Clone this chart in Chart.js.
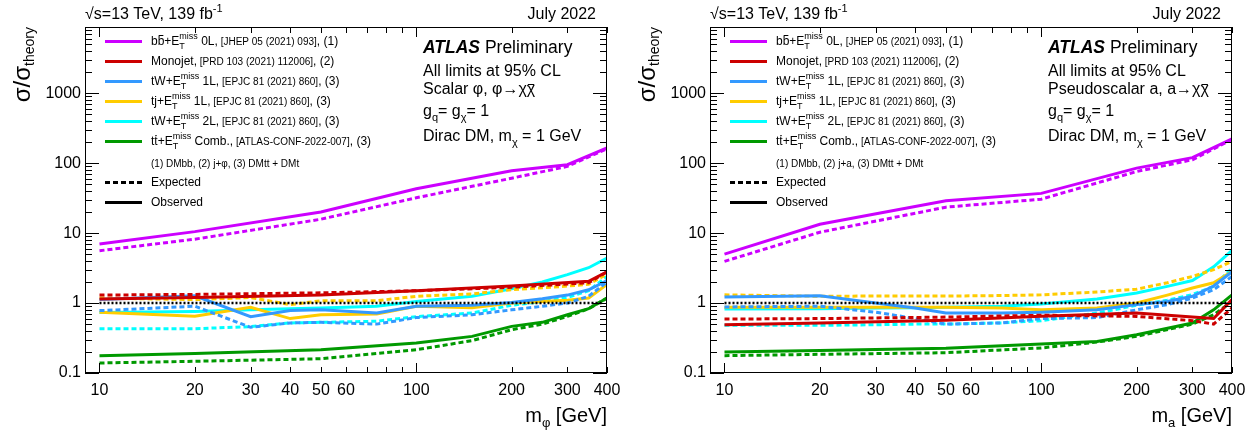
<!DOCTYPE html>
<html>
<head>
<meta charset="utf-8">
<script src="https://cdn.jsdelivr.net/npm/chart.js@4.4.1/dist/chart.umd.min.js"></script>
<style>
  body { margin: 0; background: #fff; }
  #wrap { position: relative; width: 1260px; height: 435px; }
  canvas { position: absolute; top: 0; }
</style>
</head>
<body>
<div id="wrap">
  <canvas id="scalar" width="630" height="435" style="left:0"></canvas>
  <canvas id="pseudo" width="630" height="435" style="left:630px"></canvas>
</div>
<script>
const FONT = '"Liberation Sans", Arial, Helvetica, sans-serif';

// axis labels
const xTickLabels = [10, 20, 30, 40, 50, 60, 100, 200, 300, 400];
const yTickLabels = [0.1, 1, 10, 100, 1000];

// unity reference line
const unityMass = [10, 390];
const unityVal = [1, 1];

// --- scalar mediator (left panel) ---
const sBbMass = [10, 20, 50, 100, 200, 300, 400];
const sBbObs = [7.0, 10.5, 20, 43, 78, 95, 165];
const sBbExp = [5.6, 8.2, 15.8, 32, 61, 90, 160];
const sJetMass = [10, 20, 50, 100, 200, 350, 400];
const sJetObs = [1.14, 1.2, 1.3, 1.5, 1.75, 2.05, 2.8];
const sJetExp = [1.3, 1.33, 1.4, 1.5, 1.68, 1.95, 2.8];
const sTopMass = [10, 20, 30, 40, 50, 75, 100, 150, 200, 250, 300, 350, 400];
const sTW1Obs = [1.12, 1.27, 0.64, 0.78, 0.8, 0.72, 0.9, 0.93, 1.02, 1.15, 1.3, 1.55, 2.1];
const sTW1Exp = [0.78, 0.9, 0.45, 0.52, 0.53, 0.5, 0.62, 0.68, 0.8, 0.9, 1.0, 1.25, 2.0];
const sTjObs = [0.74, 0.65, 0.87, 0.6, 0.68, 0.7, 0.9, 0.86, 1.0, 1.05, 1.1, 1.18, 1.85];
const sTjExp = [1.18, 1.12, 1.2, 0.95, 1.08, 1.08, 1.25, 1.35, 1.55, 1.65, 1.75, 1.85, 2.6];
const sTW2Obs = [0.73, 0.76, 0.8, 0.83, 0.85, 0.9, 1.05, 1.25, 1.6, 2.0, 2.55, 3.2, 4.4];
const sTW2Exp = [0.43, 0.43, 0.46, 0.52, 0.53, 0.55, 0.64, 0.72, 0.93, 1.05, 1.2, 1.5, 2.4];
const sTtMass = [10, 20, 50, 100, 150, 200, 250, 300, 350, 400];
const sTtObs = [0.177, 0.19, 0.215, 0.268, 0.334, 0.464, 0.53, 0.68, 0.83, 1.18];
const sTtExp = [0.139, 0.147, 0.16, 0.215, 0.29, 0.416, 0.5, 0.645, 0.83, 1.18];

// --- pseudoscalar mediator (right panel) ---
const pBbMass = [10, 20, 50, 100, 200, 300, 400];
const pBbObs = [5.0, 13.4, 29, 37, 85, 120, 222];
const pBbExp = [3.95, 10.3, 23.5, 30.6, 76, 112, 218];
const pJetMass = [10, 20, 50, 100, 200, 300, 350, 400];
const pJetObs = [0.49, 0.52, 0.57, 0.65, 0.72, 0.63, 0.6, 1.12];
const pJetExp = [0.59, 0.6, 0.63, 0.67, 0.645, 0.56, 0.5, 0.85];
const pTopMass = [10, 20, 30, 40, 50, 75, 100, 150, 200, 250, 300, 350, 400];
const pTW1Obs = [1.22, 1.27, 1.0, 0.85, 0.72, 0.72, 0.74, 0.8, 0.95, 1.05, 1.25, 1.75, 2.8];
const pTW1Exp = [0.88, 0.9, 0.74, 0.6, 0.5, 0.52, 0.6, 0.62, 0.8, 0.95, 1.18, 1.55, 2.4];
const pTjObs = [0.87, 0.87, 0.87, 0.87, 0.87, 0.85, 0.8, 0.85, 1.0, 1.3, 1.64, 1.95, 2.83];
const pTjExp = [1.31, 1.25, 1.26, 1.26, 1.26, 1.28, 1.31, 1.44, 1.58, 1.95, 2.4, 3.0, 3.95];
const pTW2Obs = [0.82, 0.83, 0.85, 0.86, 0.87, 0.9, 0.97, 1.14, 1.39, 1.73, 2.1, 3.3, 5.65];
const pTW2Exp = [0.48, 0.48, 0.49, 0.5, 0.5, 0.52, 0.56, 0.72, 0.93, 1.1, 1.32, 1.73, 3.16];
const pTtMass = [10, 20, 50, 100, 150, 200, 300, 350, 400];
const pTtObs = [0.2, 0.21, 0.225, 0.26, 0.283, 0.353, 0.518, 0.8, 1.31];
const pTtExp = [0.177, 0.185, 0.195, 0.228, 0.277, 0.334, 0.5, 0.68, 1.05];

const colors = {
  bb: "#cc00ff",     // magenta
  jet: "#cc0000",    // red
  tw1: "#3399ff",    // light blue
  tj: "#ffcc00",     // yellow
  tw2: "#00ffff",    // cyan
  tt: "#009900"      // green
};

const DASH = [5, 3];   // expected limits
const DOTS = [2, 2];   // sigma = theory line

function pts(xs, ys) {
  return xs.map((x, i) => ({ x: x, y: ys[i] }));
}

function line(label, xs, ys, color, dash, width) {
  return {
    label: label,
    data: pts(xs, ys),
    borderColor: color,
    borderWidth: width || 3,
    borderDash: dash || [],
    pointRadius: 0,
    fill: false,
    tension: 0
  };
}

function fontOf(size, style) {
  return (style || "") + " " + size + "px " + FONT;
}

function isStack(p) {
  return p.sub !== undefined || p.sup !== undefined;
}

function partWidth(ctx, p) {
  if (isStack(p)) {
    ctx.font = fontOf(p.size);
    return Math.max(ctx.measureText(p.sub || "").width, ctx.measureText(p.sup || "").width);
  }
  ctx.font = fontOf(p.size, p.style);
  return ctx.measureText(p.t).width;
}

// draws a run of text pieces (sub/superscripts, overlines)
function drawRich(ctx, x, y, parts, align) {
  const total = parts.reduce((s, p) => s + partWidth(ctx, p), 0);
  let cx = align === "right" ? x - total : x;
  ctx.textAlign = "left";
  ctx.textBaseline = "alphabetic";
  ctx.fillStyle = "#000";
  parts.forEach(p => {
    const w = partWidth(ctx, p);
    if (isStack(p)) {
      ctx.font = fontOf(p.size);
      if (p.sup) ctx.fillText(p.sup, cx, y - 6);
      if (p.sub) ctx.fillText(p.sub, cx, y + 4);
    } else {
      ctx.font = fontOf(p.size, p.style);
      ctx.fillText(p.t, cx, y + (p.dy || 0));
      if (p.over) {
        const oy = Math.round(y - p.over * p.size) + 0.5;
        ctx.strokeStyle = "#000";
        ctx.lineWidth = 1;
        ctx.beginPath();
        ctx.moveTo(cx + 1, oy);
        ctx.lineTo(cx + w - 1, oy);
        ctx.stroke();
      }
    }
    cx += w;
  });
}

function et() {
  return [{ t: "+E", size: 12 }, { sub: "T", sup: "miss", size: 9 }];
}

function legendRows(med) {
  return [
    { dy: 14, color: colors.bb, parts: [{ t: "b", size: 12 }, { t: "b", size: 12, over: 0.85 }, ...et(),
      { t: " 0L,", size: 12 }, { t: " [JHEP 05 (2021) 093]", size: 10 }, { t: ", (1)", size: 12 }] },
    { dy: 34, color: colors.jet, parts: [{ t: "Monojet,", size: 12 }, { t: " [PRD 103 (2021) 112006]", size: 10 },
      { t: ", (2)", size: 12 }] },
    { dy: 54, color: colors.tw1, parts: [{ t: "tW", size: 12 }, ...et(), { t: " 1L,", size: 12 },
      { t: " [EPJC 81 (2021) 860]", size: 10 }, { t: ", (3)", size: 12 }] },
    { dy: 74, color: colors.tj, parts: [{ t: "tj", size: 12 }, ...et(), { t: " 1L,", size: 12 },
      { t: " [EPJC 81 (2021) 860]", size: 10 }, { t: ", (3)", size: 12 }] },
    { dy: 94, color: colors.tw2, parts: [{ t: "tW", size: 12 }, ...et(), { t: " 2L,", size: 12 },
      { t: " [EPJC 81 (2021) 860]", size: 10 }, { t: ", (3)", size: 12 }] },
    { dy: 114, color: colors.tt, parts: [{ t: "t", size: 12 }, { t: "t", size: 12, over: 0.85 }, ...et(),
      { t: " Comb.,", size: 12 }, { t: " [ATLAS-CONF-2022-007]", size: 10 }, { t: ", (3)", size: 12 }] },
    { dy: 136, parts: [{ t: "(1) DMbb, (2) j+" + med + ", (3) DMtt + DMt", size: 10 }] },
    { dy: 155, color: "#000", dash: DASH, parts: [{ t: "Expected", size: 12 }] },
    { dy: 175, color: "#000", parts: [{ t: "Observed", size: 12 }] }
  ];
}

const atlasPlugin = {
  id: "atlas",
  afterDraw(chart, args, o) {
    const ctx = chart.ctx, a = chart.chartArea;
    const xs = chart.scales.x, ys = chart.scales.y;
    ctx.save();

    // frame
    ctx.strokeStyle = "#000";
    ctx.lineWidth = 1;
    ctx.strokeRect(a.left + 0.5, a.top + 0.5, a.right - a.left - 1, a.bottom - a.top - 1);

    // tick marks inside the frame, all four sides
    ctx.beginPath();
    [1, 10, 100].forEach(d => {
      for (let k = 1; k <= 9; k++) {
        const v = k * d;
        if (v < xs.min || v > xs.max) continue;
        const px = Math.round(xs.getPixelForValue(v)) + 0.5;
        const len = k === 1 ? 10 : 6;
        ctx.moveTo(px, a.bottom); ctx.lineTo(px, a.bottom - len);
        ctx.moveTo(px, a.top); ctx.lineTo(px, a.top + len);
      }
    });
    [0.1, 1, 10, 100, 1000].forEach(d => {
      for (let k = 1; k <= 9; k++) {
        const v = k * d;
        if (v < ys.min || v > ys.max) continue;
        const py = Math.round(ys.getPixelForValue(v)) + 0.5;
        const len = k === 1 ? 14 : 7;
        ctx.moveTo(a.left, py); ctx.lineTo(a.left + len, py);
        ctx.moveTo(a.right, py); ctx.lineTo(a.right - len, py);
      }
    });
    ctx.stroke();

    // legend
    o.legend.forEach(r => {
      const y = a.top + r.dy;
      if (r.color) {
        ctx.strokeStyle = r.color;
        ctx.lineWidth = 3;
        ctx.setLineDash(r.dash || []);
        ctx.beginPath();
        ctx.moveTo(a.left + 20, y + 0.5);
        ctx.lineTo(a.left + 57, y + 0.5);
        ctx.stroke();
        ctx.setLineDash([]);
      }
      drawRich(ctx, a.left + 66, y + 4, r.parts, "left");
    });

    // ATLAS label block
    const bx = a.right - 184;
    drawRich(ctx, bx, a.top + 26, [{ t: "ATLAS", size: 17.5, style: "italic bold" }, { t: " Preliminary", size: 17.5 }]);
    drawRich(ctx, bx, a.top + 49, [{ t: "All limits at 95% CL", size: 16 }]);
    drawRich(ctx, bx, a.top + 67, [{ t: o.model, size: 16 }, { t: "\u03c7", size: 16, over: 0.62 }]);
    drawRich(ctx, bx, a.top + 89, [{ t: "g", size: 16 }, { t: "q", size: 11, dy: 5 }, { t: "= g", size: 16 },
      { t: "\u03c7", size: 11, dy: 5 }, { t: "= 1", size: 16 }]);
    drawRich(ctx, bx, a.top + 114, [{ t: "Dirac DM, m", size: 16 }, { t: "\u03c7", size: 11, dy: 5 },
      { t: " = 1 GeV", size: 16 }]);

    // top labels
    drawRich(ctx, a.left, 19, [{ t: "\u221as=13 TeV, 139 fb", size: 16 }, { t: "-1", size: 11, dy: -7 }]);
    drawRich(ctx, a.right - 11, 19, [{ t: "July 2022", size: 16 }], "right");

    // axis titles
    drawRich(ctx, a.right, 422, [{ t: "m", size: 20 }, { t: o.med, size: 13, dy: 5 }, { t: " [GeV]", size: 20 }], "right");
    ctx.save();
    ctx.translate(a.left - 55, a.top);
    ctx.rotate(-Math.PI / 2);
    drawRich(ctx, 0, 0, [{ t: "\u03c3/\u03c3", size: 24 }, { t: "theory", size: 14, dy: 4 }], "right");
    ctx.restore();

    ctx.restore();
  }
};

function makeChart(id, cfg) {
  new Chart(document.getElementById(id), {
    type: "line",
    data: { datasets: cfg.datasets },
    options: {
      responsive: false,
      animation: false,
      devicePixelRatio: 1,
      layout: { padding: { top: 27, right: cfg.padRight, left: 0, bottom: 0 } },
      scales: {
        x: {
          type: "logarithmic",
          min: 9,
          max: 400,
          grid: { display: false, drawTicks: false },
          border: { display: false },
          afterBuildTicks: s => { s.ticks = xTickLabels.map(v => ({ value: v })); },
          afterFit: s => { s.height = 62; },
          ticks: {
            autoSkip: false, maxRotation: 0, minRotation: 0, padding: 8, color: "#000",
            font: { family: FONT, size: 16 },
            callback: v => String(v)
          }
        },
        y: {
          type: "logarithmic",
          min: 0.1,
          max: 8850,
          grid: { display: false, drawTicks: false },
          border: { display: false },
          afterBuildTicks: s => { s.ticks = yTickLabels.map(v => ({ value: v })); },
          afterFit: s => { s.width = cfg.axisWidth; },
          ticks: {
            autoSkip: false, padding: 4, color: "#000",
            font: { family: FONT, size: 16 },
            callback: v => String(v)
          }
        }
      },
      plugins: {
        legend: { display: false },
        tooltip: { enabled: false },
        atlas: { legend: legendRows(cfg.med), model: cfg.model, med: cfg.med }
      }
    },
    plugins: [atlasPlugin]
  });
}

makeChart("scalar", {
  axisWidth: 85,
  padRight: 23,
  med: "\u03c6",
  model: "Scalar \u03c6, \u03c6\u2192\u03c7",
  datasets: [
    line("unity", unityMass, unityVal, "#000", DOTS, 2.5),
    line("bb obs", sBbMass, sBbObs, colors.bb),
    line("bb exp", sBbMass, sBbExp, colors.bb, DASH),
    line("monojet obs", sJetMass, sJetObs, colors.jet),
    line("monojet exp", sJetMass, sJetExp, colors.jet, DASH),
    line("tW 1L obs", sTopMass, sTW1Obs, colors.tw1),
    line("tW 1L exp", sTopMass, sTW1Exp, colors.tw1, DASH),
    line("tj 1L obs", sTopMass, sTjObs, colors.tj),
    line("tj 1L exp", sTopMass, sTjExp, colors.tj, DASH),
    line("tW 2L obs", sTopMass, sTW2Obs, colors.tw2),
    line("tW 2L exp", sTopMass, sTW2Exp, colors.tw2, DASH),
    line("tt comb obs", sTtMass, sTtObs, colors.tt),
    line("tt comb exp", sTtMass, sTtExp, colors.tt, DASH)
  ]
});

makeChart("pseudo", {
  axisWidth: 80,
  padRight: 28,
  med: "a",
  model: "Pseudoscalar a, a\u2192\u03c7",
  datasets: [
    line("unity", unityMass, unityVal, "#000", DOTS, 2.5),
    line("bb obs", pBbMass, pBbObs, colors.bb),
    line("bb exp", pBbMass, pBbExp, colors.bb, DASH),
    line("monojet obs", pJetMass, pJetObs, colors.jet),
    line("monojet exp", pJetMass, pJetExp, colors.jet, DASH),
    line("tW 1L obs", pTopMass, pTW1Obs, colors.tw1),
    line("tW 1L exp", pTopMass, pTW1Exp, colors.tw1, DASH),
    line("tj 1L obs", pTopMass, pTjObs, colors.tj),
    line("tj 1L exp", pTopMass, pTjExp, colors.tj, DASH),
    line("tW 2L obs", pTopMass, pTW2Obs, colors.tw2),
    line("tW 2L exp", pTopMass, pTW2Exp, colors.tw2, DASH),
    line("tt comb obs", pTtMass, pTtObs, colors.tt),
    line("tt comb exp", pTtMass, pTtExp, colors.tt, DASH)
  ]
});
</script>
</body>
</html>
